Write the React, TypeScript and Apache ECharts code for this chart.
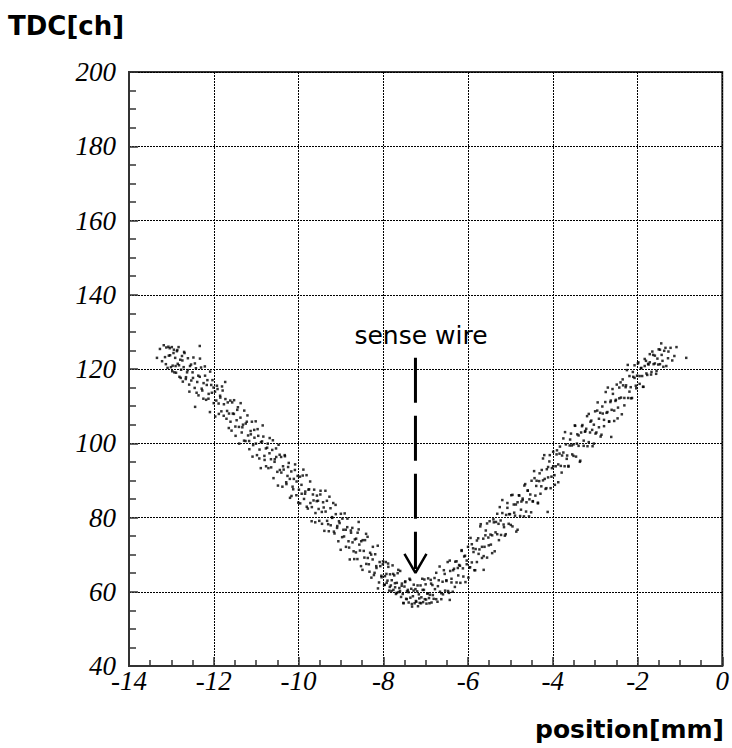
import React, { useEffect, useRef } from "react";
import * as echarts from "echarts";

// Axis ticks
const xTicks = [-14, -12, -10, -8, -6, -4, -2, 0];
const yTicks = [40, 60, 80, 100, 120, 140, 160, 180, 200];

// Scatter: left branch of the V (position[mm], TDC[ch])
const leftBranch: [number, number][] = [
  [-13.34,123.0],[-13.22,122.1],[-13.18,126.4],[-13.15,123.2],[-13.12,125.8],[-13.09,120.3],[-13.06,123.6],[-13.04,125.6],
  [-13.01,120.5],[-12.99,125.9],[-12.97,120.9],[-12.95,124.3],[-12.93,119.1],[-12.91,123.0],[-12.89,119.0],[-12.87,124.8],
  [-12.85,121.4],[-12.83,125.9],[-12.81,117.9],[-12.79,122.5],[-12.77,119.8],[-12.75,123.5],[-12.73,116.6],[-12.71,120.5],
  [-12.69,124.3],[-12.66,117.3],[-12.63,119.1],[-12.61,122.9],[-12.58,115.8],[-12.56,120.8],[-12.53,116.9],[-12.5,119.1],
  [-12.48,123.1],[-12.45,114.9],[-12.42,120.2],[-12.39,116.5],[-12.36,112.9],[-12.33,117.9],[-12.3,120.4],[-12.27,114.2],
  [-12.24,116.2],[-12.21,120.7],[-12.18,111.7],[-12.15,117.0],[-12.12,113.3],[-12.09,108.4],[-12.06,115.7],[-12.03,117.0],
  [-12.0,110.8],[-11.97,113.9],
  [-11.94,111.5],[-11.91,114.6],[-11.88,107.9],[-11.85,112.8],[-11.82,108.6],[-11.79,114.2],[-11.76,110.5],[-11.73,116.5],
  [-11.7,106.6],[-11.67,111.0],[-11.64,108.0],[-11.61,111.5],[-11.58,103.4],[-11.55,108.0],[-11.52,111.6],[-11.49,104.5],
  [-11.46,106.2],[-11.43,109.7],[-11.4,99.9],[-11.37,106.9],[-11.34,102.9],[-11.31,105.0],[-11.28,108.8],[-11.25,100.6],
  [-11.22,105.8],[-11.19,102.1],[-11.16,98.4],[-11.13,103.3],[-11.1,105.8],[-11.07,99.5],[-11.04,101.5],[-11.01,105.9],
  [-10.98,96.8],[-10.95,102.0],[-10.92,98.3],[-10.89,93.3],[-10.86,100.5],[-10.83,101.8],[-10.8,95.5],[-10.77,98.6],
  [-10.74,98.8],[-10.71,93.3],[-10.68,101.4],[-10.65,95.7],[-10.62,98.2],[-10.59,90.6],[-10.56,95.7],[-10.53,98.6],
  [-10.5,92.3],[-10.47,99.6],
  [-10.44,92.8],[-10.41,96.3],[-10.38,88.3],[-10.35,92.9],[-10.32,96.5],[-10.29,89.5],[-10.26,91.2],[-10.23,94.7],
  [-10.2,85.3],[-10.17,92.4],[-10.14,88.3],[-10.11,90.4],[-10.08,94.3],[-10.05,86.0],[-10.02,91.2],[-9.99,87.5],
  [-9.96,83.8],[-9.93,88.8],[-9.9,91.3],[-9.87,85.0],[-9.84,87.0],[-9.81,91.4],[-9.78,82.4],[-9.75,87.6],
  [-9.72,83.9],[-9.69,79.0],[-9.66,86.2],[-9.63,87.5],[-9.6,81.2],[-9.57,84.4],[-9.54,84.5],[-9.51,79.1],
  [-9.48,87.2],[-9.45,81.5],[-9.42,84.1],[-9.39,76.4],[-9.36,81.6],[-9.33,84.5],[-9.3,78.2],[-9.27,85.6],
  [-9.24,77.9],[-9.21,80.1],[-9.18,83.9],[-9.15,75.7],[-9.12,80.9],[-9.09,77.2],[-9.06,73.6],[-9.03,78.5],
  [-9.0,81.0],[-8.97,74.7],[-8.94,76.7],[-8.91,81.1],[-8.88,72.1],[-8.85,77.4],[-8.82,73.6],[-8.79,68.7],
  [-8.76,75.9],[-8.73,77.2],[-8.7,70.9],[-8.67,74.1],[-8.64,74.3],[-8.61,68.8],[-8.58,76.8],[-8.55,71.1],
  [-8.52,73.6],[-8.49,65.9],[-8.46,71.0],[-8.43,73.9],[-8.4,67.5],[-8.37,74.8],[-8.34,67.4],[-8.31,70.5],
  [-8.28,63.8],[-8.25,68.7],[-8.22,64.5],[-8.19,70.1],[-8.16,66.4],[-8.13,72.4],[-8.1,62.5],[-8.07,66.9],
  [-8.04,63.9],[-8.01,67.4],
  [-7.98,61.8],[-7.96,64.2],[-7.94,68.0],[-7.92,62.4],[-7.9,63.0],[-7.88,66.7],[-7.86,60.3],[-7.84,64.7],
  [-7.82,61.7],[-7.8,63.1],[-7.78,67.1],[-7.76,60.5],[-7.74,64.4],[-7.72,61.2],[-7.7,59.4],[-7.68,62.4],
  [-7.66,65.0],[-7.64,59.9],[-7.62,61.0],[-7.6,65.6],[-7.58,58.6],[-7.56,62.2],[-7.54,59.4],[-7.52,56.9],
  [-7.5,61.4],[-7.48,62.8],[-7.46,58.1],[-7.44,60.1],[-7.42,60.5],[-7.4,57.1],[-7.38,63.5],[-7.36,58.4],
  [-7.34,60.8],[-7.32,56.0],[-7.3,58.8],[-7.28,61.9],[-7.26,56.9],
];

// More dots of the left branch, between those above
const leftBranchMore: [number, number][] = [
  [-13.13,121.3],[-13.07,126.0],[-13.03,123.7],[-12.98,119.4],[-12.94,125.2],[-12.9,120.8],[-12.86,125.1],[-12.82,121.0],
  [-12.78,117.6],[-12.74,122.3],[-12.7,124.6],[-12.655,117.8],[-12.615,119.7],[-12.575,113.9],[-12.535,121.2],[-12.49,117.6],
  [-12.445,121.5],[-12.405,113.6],[-12.365,118.2],[-12.325,122.8],[-12.285,114.7],[-12.245,112.0],[-12.205,118.2],[-12.165,115.7],
  [-12.125,112.0],[-12.085,119.3],[-12.045,113.6],[-12.005,115.0],[-11.965,107.2],[-11.925,115.5],[-11.885,110.7],[-11.845,112.3],
  [-11.805,115.3],[-11.765,107.4],[-11.725,111.9],[-11.685,108.7],[-11.645,104.1],[-11.605,105.8],[-11.565,111.0],[-11.525,107.9],
  [-11.485,102.0],[-11.445,109.0],[-11.405,104.4],[-11.365,110.8],[-11.325,104.3],[-11.285,100.7],[-11.245,105.3],[-11.205,107.5],
  [-11.165,100.6],[-11.125,102.4],[-11.085,96.4],[-11.045,103.6],[-11.005,99.9],[-10.965,103.8],[-10.925,95.9],[-10.885,100.3],
  [-10.845,104.8],[-10.805,96.6],[-10.765,93.8],[-10.725,99.9],[-10.685,97.3],[-10.645,93.5],[-10.605,100.8],[-10.565,95.0],
  [-10.525,96.3],[-10.485,88.6],[-10.445,96.9],[-10.405,92.1],[-10.365,93.8],[-10.325,96.8],[-10.285,89.0],[-10.245,93.6],
  [-10.205,90.4],[-10.165,85.8],[-10.125,87.6],[-10.085,92.8],[-10.045,89.7],[-10.005,84.0],[-9.965,91.0],[-9.925,86.4],
  [-9.885,92.9],[-9.845,86.4],[-9.805,82.9],[-9.765,87.5],[-9.725,89.7],[-9.685,82.8],[-9.645,84.6],[-9.605,78.7],
  [-9.565,85.9],[-9.525,82.3],[-9.485,86.2],[-9.445,78.3],[-9.405,82.7],[-9.365,87.2],[-9.325,79.1],[-9.285,76.3],
  [-9.245,82.5],[-9.205,79.9],[-9.165,76.2],[-9.125,83.4],[-9.085,77.7],[-9.045,79.0],[-9.005,71.3],[-8.965,79.7],
  [-8.925,74.9],[-8.885,76.7],[-8.845,79.7],[-8.805,71.9],[-8.765,76.5],[-8.725,73.3],[-8.685,68.8],[-8.645,70.6],
  [-8.605,75.9],[-8.565,72.7],[-8.525,66.9],[-8.485,73.9],[-8.445,69.2],[-8.405,75.6],[-8.365,69.1],[-8.325,65.4],
  [-8.285,70.0],[-8.245,72.1],[-8.205,65.1],[-8.165,66.9],[-8.125,60.9],[-8.085,68.0],[-8.045,64.3],[-8.005,68.2],
  [-7.965,61.9],[-7.925,64.8],[-7.885,67.6],[-7.845,61.3],[-7.805,60.2],[-7.765,64.8],[-7.725,62.3],[-7.685,59.7],
  [-7.645,65.9],[-7.605,60.2],[-7.565,61.6],[-7.525,57.0],[-7.485,62.6],[-7.445,58.0],[-7.405,59.9],[-7.365,63.2],
  [-7.325,56.7],[-7.285,60.3],
];

// Right branch of the V
const rightBranch: [number, number][] = [
  [-7.24,60.7],[-7.22,57.3],[-7.2,60.1],[-7.18,56.1],[-7.16,59.3],[-7.14,57.0],[-7.12,61.7],[-7.1,58.5],
  [-7.08,63.5],[-7.06,57.2],[-7.04,60.5],[-7.02,58.0],[-7.0,62.0],[-6.98,56.8],[-6.96,59.5],[-6.94,63.6],
  [-6.92,58.3],[-6.9,59.2],[-6.88,63.2],[-6.86,57.1],[-6.84,61.8],[-6.81,58.1],[-6.78,60.7],[-6.75,65.1],
  [-6.72,57.3],[-6.69,63.1],[-6.66,60.0],[-6.63,58.0],[-6.6,62.7],[-6.57,65.8],[-6.54,60.3],[-6.51,62.9],
  [-6.48,68.0],[-6.45,59.7],[-6.42,65.6],[-6.39,62.5],[-6.36,60.0],[-6.33,66.2],[-6.3,68.1],[-6.27,62.5],
  [-6.24,66.4],[-6.21,67.2],
  [-6.18,62.4],[-6.15,71.2],[-6.12,66.3],[-6.09,69.5],[-6.06,62.6],[-6.03,68.4],[-6.0,72.1],[-5.97,66.5],
  [-5.94,74.5],[-5.91,67.9],[-5.88,71.7],[-5.85,65.8],[-5.82,71.5],[-5.79,68.0],[-5.76,74.4],[-5.73,71.4],
  [-5.7,78.2],[-5.67,69.1],[-5.64,74.3],[-5.61,72.1],[-5.58,76.5],[-5.55,69.2],[-5.52,74.6],[-5.49,79.0],
  [-5.46,72.7],[-5.43,75.2],[-5.4,79.5],[-5.37,70.9],[-5.34,78.8],[-5.31,75.5],
  [-5.28,78.3],[-5.25,82.8],[-5.22,75.3],[-5.19,81.2],[-5.16,78.1],[-5.13,75.1],[-5.1,80.7],[-5.07,83.9],
  [-5.04,78.3],[-5.01,80.9],[-4.98,86.0],[-4.95,77.6],[-4.92,83.5],[-4.89,80.5],[-4.86,76.2],[-4.83,84.1],
  [-4.8,86.0],[-4.77,80.4],[-4.74,84.3],[-4.71,85.1],[-4.68,80.3],[-4.65,89.0],[-4.62,84.1],[-4.59,87.3],
  [-4.56,80.3],[-4.53,86.2],[-4.5,89.9],[-4.47,84.4],[-4.44,92.5],[-4.41,85.9],[-4.38,89.9],[-4.35,84.0],
  [-4.32,89.8],[-4.29,86.4],[-4.26,92.8],[-4.23,90.0],[-4.2,96.8],[-4.17,87.7],[-4.14,93.0],[-4.11,90.8],
  [-4.08,95.1],[-4.05,87.9],[-4.02,93.3],
  [-3.99,97.7],[-3.96,91.4],[-3.93,93.8],[-3.9,98.1],[-3.87,89.5],[-3.84,97.2],[-3.81,93.9],[-3.78,96.7],
  [-3.75,101.3],[-3.72,93.8],[-3.69,99.7],[-3.66,96.7],[-3.63,93.7],[-3.6,99.4],[-3.57,102.6],[-3.54,97.0],
  [-3.51,99.7],[-3.48,104.8],[-3.45,96.4],[-3.42,102.4],[-3.39,99.3],[-3.36,95.0],[-3.33,102.9],[-3.3,104.9],
  [-3.27,99.3],[-3.24,103.1],[-3.21,103.9],[-3.18,99.2],[-3.15,107.9],[-3.12,102.9],[-3.09,106.1],[-3.06,99.2],
  [-3.03,105.0],[-3.0,108.6],[-2.97,102.9],[-2.94,111.0],[-2.91,104.3],
  [-2.88,108.2],[-2.85,102.3],[-2.82,108.0],[-2.79,104.6],[-2.76,111.1],[-2.73,108.2],[-2.7,115.0],[-2.67,105.9],
  [-2.64,111.1],[-2.61,109.0],[-2.58,113.3],[-2.55,106.0],[-2.52,111.4],[-2.49,115.8],[-2.46,109.6],[-2.43,112.1],
  [-2.4,116.4],[-2.37,107.8],[-2.34,115.6],[-2.31,112.2],[-2.28,115.1],[-2.25,119.7],[-2.22,112.2],[-2.19,118.1],
  [-2.16,115.1],[-2.13,112.2],[-2.1,117.9],[-2.07,121.0],[-2.04,115.5],[-2.01,118.2],
  [-1.98,121.8],[-1.95,116.0],[-1.92,120.2],[-1.89,118.1],[-1.86,115.2],[-1.83,120.8],[-1.8,122.2],[-1.77,118.4],
  [-1.74,121.2],[-1.71,121.8],[-1.68,118.5],[-1.65,124.7],[-1.62,121.3],[-1.59,123.6],[-1.56,118.7],[-1.53,122.8],
  [-1.5,125.3],[-1.47,121.3],[-1.44,126.9],[-1.41,122.2],[-1.37,124.9],[-1.32,120.8],[-1.27,124.7],[-1.18,122.3],
  [-1.08,125.9],[-0.85,123.0],
];

// More dots of the right branch, between those above
const rightBranchMore: [number, number][] = [
  [-7.23,57.5],[-7.19,61.7],[-7.15,58.2],[-7.11,56.9],[-7.07,60.5],[-7.03,63.3],[-6.99,57.9],[-6.95,59.6],
  [-6.91,56.9],[-6.87,62.2],[-6.83,59.1],[-6.79,63.7],[-6.75,58.0],[-6.71,61.5],[-6.67,66.8],[-6.63,59.6],
  [-6.59,59.3],[-6.55,64.8],[-6.51,63.1],[-6.47,60.2],[-6.43,68.4],[-6.39,63.5],[-6.35,65.8],[-6.31,61.3],
  [-6.27,68.2],[-6.23,64.4],[-6.19,67.0],[-6.15,71.0],[-6.11,64.1],[-6.07,69.7],[-6.03,67.4],[-5.99,63.8],
  [-5.95,66.6],[-5.91,72.8],[-5.87,70.7],[-5.83,65.8],[-5.79,73.8],[-5.75,70.2],[-5.71,77.6],[-5.67,72.1],
  [-5.63,69.6],[-5.59,75.2],[-5.55,78.4],[-5.51,72.5],[-5.47,75.4],[-5.43,70.4],[-5.39,78.7],[-5.35,76.0],
  [-5.31,81.0],[-5.27,73.9],[-5.23,79.2],[-5.19,84.7],[-5.15,77.4],[-5.11,75.5],[-5.07,82.6],[-5.03,80.9],
  [-4.99,78.0],[-4.95,86.1],[-4.91,81.3],[-4.87,83.5],[-4.83,76.7],[-4.79,85.9],[-4.75,82.1],[-4.71,84.7],
  [-4.67,88.6],[-4.63,81.6],[-4.59,87.2],[-4.55,84.9],[-4.51,81.4],[-4.47,84.3],[-4.43,90.6],[-4.39,88.5],
  [-4.35,83.8],[-4.31,91.9],[-4.27,88.4],[-4.23,95.9],[-4.19,90.4],[-4.15,87.9],[-4.11,93.6],[-4.07,96.8],
  [-4.03,91.0],[-3.99,93.8],[-3.95,88.8],[-3.91,97.0],[-3.87,94.3],[-3.83,99.1],[-3.79,92.1],[-3.75,97.5],
  [-3.71,103.0],[-3.67,95.8],[-3.63,93.9],[-3.59,101.0],[-3.55,99.4],[-3.51,96.6],[-3.47,104.7],[-3.43,99.9],
  [-3.39,102.1],[-3.35,95.3],[-3.31,104.6],[-3.27,100.7],[-3.23,103.3],[-3.19,107.3],[-3.15,100.3],[-3.11,105.8],
  [-3.07,103.6],[-3.03,99.9],[-2.99,102.6],[-2.95,108.8],[-2.91,106.6],[-2.87,101.8],[-2.83,109.9],[-2.79,106.3],
  [-2.75,113.8],[-2.71,108.4],[-2.67,105.8],[-2.63,111.5],[-2.59,114.6],[-2.55,108.8],[-2.51,111.7],[-2.47,106.7],
  [-2.43,115.0],[-2.39,112.3],[-2.35,117.2],[-2.31,110.2],[-2.27,115.6],[-2.23,121.1],[-2.19,113.9],[-2.15,112.1],
  [-2.11,119.2],[-2.07,117.6],[-2.03,114.8],[-1.99,121.5],[-1.95,118.1],[-1.91,120.3],[-1.87,115.2],[-1.83,122.7],
  [-1.79,118.8],[-1.75,121.4],[-1.71,124.0],[-1.67,119.2],[-1.63,123.8],[-1.59,121.5],[-1.55,119.5],[-1.51,121.2],
  [-1.47,125.2],[-1.43,123.8],[-1.39,120.6],[-1.34,125.7],[-1.28,122.9],[-1.22,125.7],[-1.13,123.5],
];

// Isolated dots away from the band
const strayPoints: [number, number][] = [
  [-13.27,125.4],[-12.33,126.2],[-12.44,109.8],[-8.58,78.8],[-6.43,57.8],[-5.63,65.9],[-4.12,81.5],[-2.62,101.7],
];

// "sense wire" arrow (data coordinates)
const arrowLabel = "sense wire";
const arrowX = -7.24;
const arrowTop = 123;
const arrowTip = 65.1;
const arrowHeadHalf = 0.26;
const arrowHeadLen = 5.1;

export default function App() {
  const ref = useRef<HTMLDivElement>(null);

  useEffect(() => {
    if (!ref.current) return;
    const chart = echarts.init(ref.current, null, { renderer: "svg" });
    const labelFont = {
      fontFamily: "Liberation Serif",
      fontStyle: "italic" as const,
      fontSize: 27,
      color: "#000",
    };
    const gridLine = { show: true, lineStyle: { color: "#000", width: 1, type: [2, 1] as number[] } };
    chart.setOption({
      animation: false,
      backgroundColor: "#fff",
      grid: {
        left: 129,
        right: 9,
        top: 72,
        bottom: 82,
        show: true,
        borderColor: "#333",
        borderWidth: 2,
        backgroundColor: "transparent",
      },
      xAxis: {
        type: "value",
        min: xTicks[0],
        max: xTicks[xTicks.length - 1],
        interval: 2,
        axisLine: { show: true, onZero: false, lineStyle: { color: "#333", width: 2 } },
        axisTick: { show: true, inside: true, length: 9, lineStyle: { color: "#333", width: 1.5 } },
        minorTick: { show: true, splitNumber: 4, length: 6, lineStyle: { color: "#333", width: 1.5 } },
        splitLine: gridLine,
        axisLabel: { ...labelFont, margin: 1, showMinLabel: true, showMaxLabel: true },
      },
      yAxis: {
        type: "value",
        min: yTicks[0],
        max: yTicks[yTicks.length - 1],
        interval: 20,
        axisLine: { show: true, onZero: false, lineStyle: { color: "#333", width: 2 } },
        axisTick: { show: true, inside: true, length: 9, lineStyle: { color: "#333", width: 1.5 } },
        minorTick: { show: true, splitNumber: 4, length: 7, lineStyle: { color: "#333", width: 1.5 } },
        splitLine: gridLine,
        axisLabel: { ...labelFont, margin: 13, showMinLabel: true, showMaxLabel: true },
      },
      series: [
        {
          type: "scatter",
          name: "TDC",
          data: [...leftBranch, ...leftBranchMore, ...rightBranch, ...rightBranchMore, ...strayPoints],
          symbol: "rect",
          symbolSize: 2.5,
          itemStyle: { color: "#000" },
          silent: true,
        },
        {
          type: "line",
          data: [
            [arrowX, arrowTop],
            [arrowX, arrowTip + 1],
          ],
          symbol: "none",
          lineStyle: { color: "#000", width: 3, type: [45, 13] },
          silent: true,
        },
        {
          type: "line",
          data: [
            [arrowX - arrowHeadHalf, arrowTip + arrowHeadLen],
            [arrowX, arrowTip],
            [arrowX + arrowHeadHalf, arrowTip + arrowHeadLen],
          ],
          symbol: "none",
          lineStyle: { color: "#000", width: 2.5 },
          silent: true,
        },
      ],
      graphic: [
        {
          type: "text",
          left: 8,
          top: 13,
          style: {
            text: "TDC[ch]",
            font: "bold 26px 'DejaVu Sans'",
            fill: "#000",
          },
        },
        {
          type: "text",
          right: 8,
          top: 717,
          style: {
            text: "position[mm]",
            font: "bold 25px 'DejaVu Sans'",
            fill: "#000",
          },
        },
        {
          type: "text",
          x: 421,
          y: 335,
          style: {
            text: arrowLabel,
            font: "25px 'DejaVu Sans'",
            fill: "#000",
            align: "center",
            verticalAlign: "middle",
          },
        },
      ],
    });
    return () => chart.dispose();
  }, []);

  return (
    <div
      ref={ref}
      style={{ position: "fixed", left: 0, top: 0, width: 732, height: 748, background: "#fff" }}
    />
  );
}
